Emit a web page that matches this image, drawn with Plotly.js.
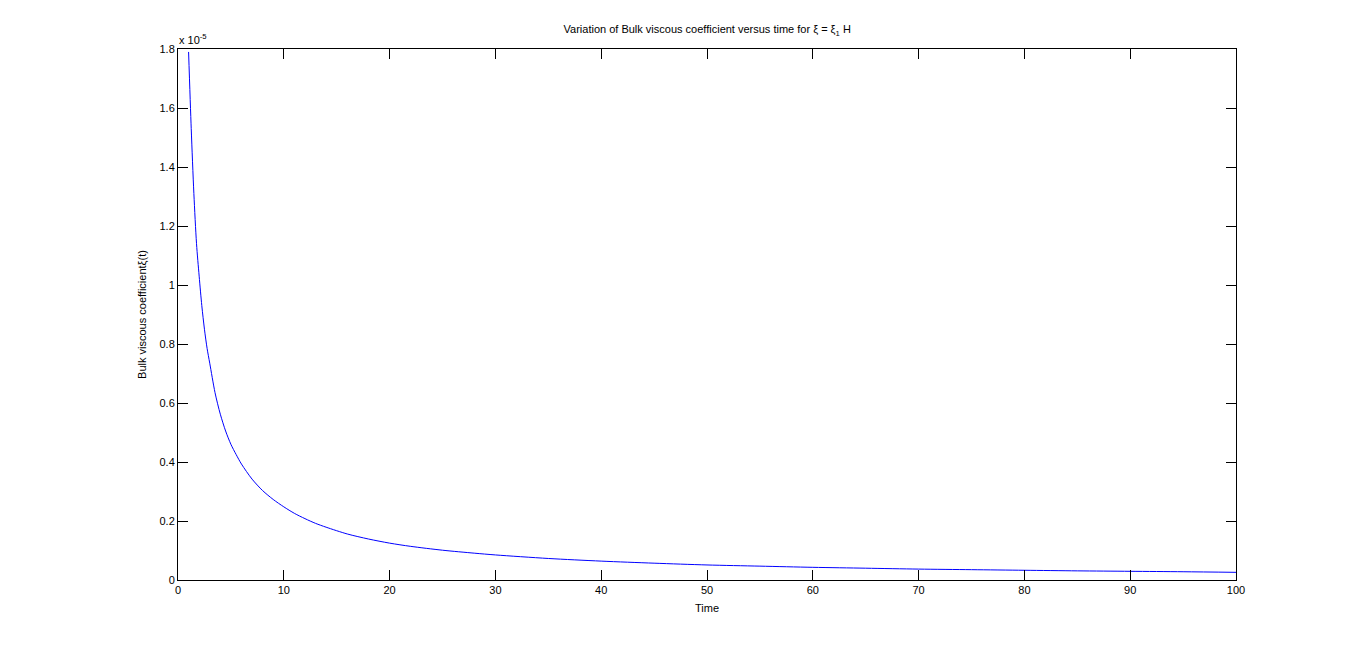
<!DOCTYPE html>
<html>
<head>
<meta charset="utf-8">
<script src="https://cdn.plot.ly/plotly-3.0.1.min.js"></script>
<style>html,body{margin:0;padding:0;background:#fff;}#chart{width:1366px;height:652px;}</style>
</head>
<body>
<div id="chart"></div>
<script>
// Time values
var timeValues = [1, 1.25, 1.5, 1.75, 2, 2.25, 2.5, 2.75, 3, 3.5, 4, 4.5, 5, 5.5, 6, 7, 8, 9, 10, 11, 12, 13, 14, 16, 18, 20, 22, 25, 28, 30, 35, 40, 45, 50, 55, 60, 65, 70, 75, 80, 85, 90, 95, 100];
// Bulk viscous coefficient, in units of 1e-5
var viscosityValues = [1.79, 1.53, 1.31, 1.14, 1.03, 0.93, 0.85, 0.785, 0.735, 0.635, 0.562, 0.505, 0.46, 0.425, 0.393, 0.342, 0.303, 0.273, 0.248, 0.226, 0.208, 0.192, 0.179, 0.156, 0.139, 0.125, 0.114, 0.101, 0.091, 0.085, 0.073, 0.064, 0.057, 0.051, 0.047, 0.043, 0.040, 0.037, 0.035, 0.033, 0.031, 0.0295, 0.028, 0.026];
var xTicks = [0, 10, 20, 30, 40, 50, 60, 70, 80, 90, 100];
var yTicks = [0, 0.2, 0.4, 0.6, 0.8, 1, 1.2, 1.4, 1.6, 1.8];
var yTickText = ["0", "0.2", "0.4", "0.6", "0.8", "1", "1.2", "1.4", "1.6", "1.8"];

var fontFam = "Liberation Sans, Arial, Helvetica, sans-serif";
var trace = {
  x: timeValues,
  y: viscosityValues,
  type: 'scatter',
  mode: 'lines',
  line: {color: '#0000ff', width: 1, shape: 'spline', smoothing: 0.8},
  hoverinfo: 'x+y'
};
var axisCommon = {
  showline: true, linecolor: '#000', linewidth: 1, mirror: 'ticks',
  ticks: 'inside', ticklen: 10, tickcolor: '#000', tickwidth: 1,
  showgrid: false, zeroline: false,
  tickfont: {family: fontFam, size: 11, color: '#000'}
};
var layout = {
  width: 1366, height: 652,
  paper_bgcolor: '#fff', plot_bgcolor: '#fff',
  margin: {l: 178, r: 130, t: 49, b: 72, pad: 0},
  showlegend: false,
  title: {
    text: 'Variation of Bulk viscous coefficient versus time for ξ = ξ<sub>1</sub> H',
    font: {family: fontFam, size: 11, color: '#000'},
    x: 0.5177, xanchor: 'center', y: 0.955, yanchor: 'middle'
  },
  xaxis: Object.assign({}, axisCommon, {
    range: [0, 100], tickvals: xTicks, ticktext: xTicks.map(String),
    title: {text: 'Time', font: {family: fontFam, size: 11, color: '#000'}, standoff: 9}
  }),
  yaxis: Object.assign({}, axisCommon, {
    range: [0, 1.8], tickvals: yTicks, ticktext: yTickText,
    title: {text: 'Bulk viscous coefficientξ(t)', font: {family: fontFam, size: 11, color: '#000'}, standoff: 10}
  }),
  annotations: [{
    text: 'x 10<sup>-5</sup>', xref: 'paper', yref: 'paper', x: 0, y: 1,
    xanchor: 'left', yanchor: 'bottom', showarrow: false, xshift: -1, yshift: 1,
    font: {family: fontFam, size: 11, color: '#000'}
  }]
};
Plotly.newPlot('chart', [trace], layout, {displayModeBar: false, staticPlot: true});
</script>
</body>
</html>
